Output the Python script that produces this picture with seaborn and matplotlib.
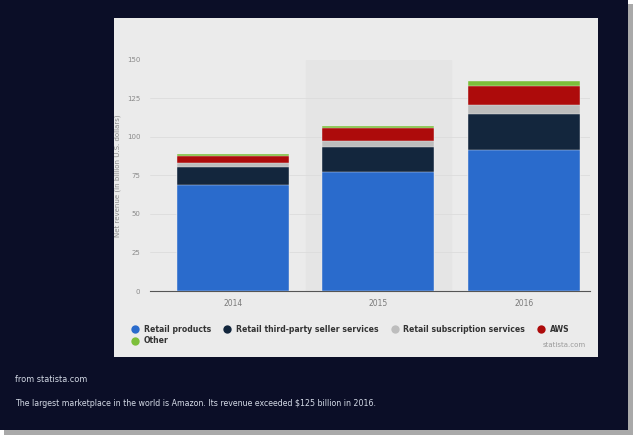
import pandas as pd
import matplotlib
matplotlib.use('Agg')
import matplotlib.pyplot as plt
from matplotlib.patches import Rectangle
from matplotlib.lines import Line2D
import seaborn as sns

# Dados: receita liquida da Amazon (bilhoes de dolares)
anos = ['2014', '2015', '2016']
retail_products = [68.5, 76.9, 91.4]
third_party = [11.7, 16.1, 23.0]
subscription = [2.8, 4.5, 6.4]
aws = [4.6, 7.9, 12.2]
other = [1.3, 1.7, 3.0]

series = ['Retail products', 'Retail third-party seller services',
          'Retail subscription services', 'AWS', 'Other']
cores = ['#2a6bcc', '#13263d', '#bdbdbd', '#ad0b0b', '#7cbf3a']
valores = [retail_products, third_party, subscription, aws, other]

y_ticks = [0, 25, 50, 75, 100, 125, 150]

# Tabela com os valores acumulados (para empilhar as barras)
base_dados = pd.DataFrame({'Ano': anos})
acumulado = [0, 0, 0]
for nome, v in zip(series, valores):
    acumulado = [a + b for a, b in zip(acumulado, v)]
    base_dados[nome] = acumulado

sns.set_theme(style='white')
plt.rcParams['font.family'] = ['DejaVu Sans']

fig = plt.figure(figsize=(6.4, 4.42), dpi=100)
fig.patch.set_facecolor('white')

W, H = 640, 442


def px_rect(x0, y0, x1, y1, **kw):
    # retangulo em coordenadas de pixel (origem no topo)
    fig.patches.append(Rectangle((x0 / W, 1 - y1 / H), (x1 - x0) / W, (y1 - y0) / H,
                                 transform=fig.transFigure, figure=fig, **kw))


# sombra, moldura escura e painel claro
px_rect(4, 4, 633, 435, facecolor='#a9a9a9', edgecolor='none', zorder=-10)
px_rect(0, 0, 628, 430, facecolor='#0b0e27', edgecolor='none', zorder=-9)
px_rect(114, 18, 598, 357, facecolor='#ebebeb', edgecolor='none', zorder=-8)

# Eixo principal
ax = fig.add_axes([150 / W, 1 - 291 / H, 440 / W, (291 - 59.5) / H])
ax.set_facecolor('none')
ax.set_zorder(5)

# faixa de destaque atras de 2015
ax.axvspan(0.5, 1.5, color='#e5e5e5', zorder=0)

# barras empilhadas: desenha do total para a base
for nome, cor in reversed(list(zip(series, cores))):
    sns.barplot(data=base_dados, x='Ano', y=nome, color=cor, width=0.77,
                saturation=1, ax=ax, zorder=3, edgecolor='#ebebeb', linewidth=0.3)

ax.set_xlim(-0.57, 2.455)
ax.set_ylim(0, 150)
ax.set_yticks(y_ticks)
ax.set_yticklabels([str(t) for t in y_ticks], fontsize=5, color='#8a8a8a')
ax.tick_params(axis='y', length=0, pad=7)
ax.tick_params(axis='x', length=0, pad=6, labelsize=5.5, labelcolor='#7a7a7a')
ax.set_xlabel('')
ax.set_ylabel('Net revenue (in billion U.S. dollars)', fontsize=5, color='#8a8a8a', labelpad=4)
ax.grid(axis='y', color='#dcdcdc', linewidth=0.6, zorder=1)
for lado in ['top', 'right', 'left']:
    ax.spines[lado].set_visible(False)
ax.spines['bottom'].set_color('#555555')
ax.spines['bottom'].set_linewidth(0.8)

# Legenda (ordem para preencher colunas como no original)
ordem = [0, 4, 1, 2, 3]
handles = [Line2D([], [], marker='o', linestyle='none', markersize=6,
                  markerfacecolor=cores[i], markeredgecolor='none') for i in ordem]
labels = [series[i] for i in ordem]
fig.legend(handles, labels, loc='upper left', bbox_to_anchor=(128 / W, 1 - 322 / H),
           ncol=4, frameon=False, prop={'size': 5.6, 'weight': 'bold'},
           labelcolor='#333333', handletextpad=0.6, columnspacing=1.6,
           labelspacing=0.3, borderaxespad=0, handlelength=1.0)

fig.text(586 / W, 1 - 345 / H, 'statista.com', fontsize=5, color='#9a9a9a',
         ha='right', va='center')

# textos sobre o fundo escuro
fig.text(15 / W, 1 - 380 / H, 'from statista.com', fontsize=5.9, color='#d4dae6',
         ha='left', va='center')
fig.text(15 / W, 1 - 404 / H,
         'The largest marketplace in the world is Amazon. Its revenue exceeded $125 billion in 2016.',
         fontsize=5.7, color='#d4dae6', ha='left', va='center')

fig.savefig('out.png', dpi=100, facecolor=fig.get_facecolor())
